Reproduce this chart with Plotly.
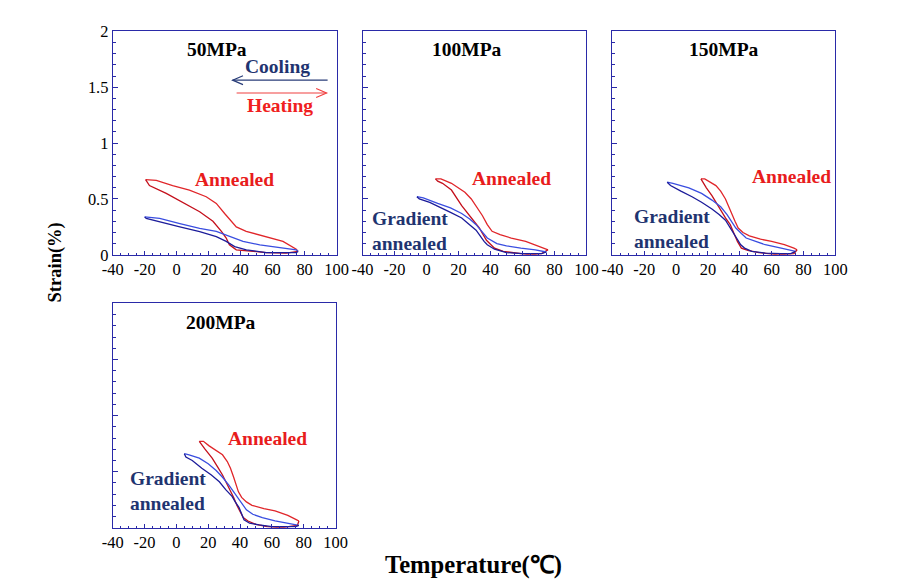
import plotly.graph_objects as go

# ---------------- data (temperature in degC, strain in %) ----------------
# 50 MPa
T50_ann_heat = [-19.4, -12.7, -2.5, 8, 18.5, 24.8, 30, 34, 37.3, 43.5, 56, 66.5, 74.8, 75.9]
S50_ann_heat = [0.673, 0.667, 0.62, 0.58, 0.52, 0.46, 0.37, 0.30, 0.25, 0.21, 0.16, 0.12, 0.05, 0.03]
T50_ann_cool = [75.9, 68.5, 56, 45.6, 37.3, 33, 31, 28, 22.7, 14.4, 4, -6.5, -17, -19.4]
S50_ann_cool = [0.03, 0.015, 0.02, 0.03, 0.044, 0.09, 0.15, 0.21, 0.30, 0.385, 0.47, 0.55, 0.62, 0.673]
T50_grd_heat = [-20, -10.6, 2, 14.4, 24.8, 33, 41.5, 52, 64.4, 74.8, 76]
S50_grd_heat = [0.34, 0.326, 0.28, 0.237, 0.21, 0.163, 0.12, 0.089, 0.068, 0.045, 0.03]
T50_grd_cool = [76, 74.8, 56, 43.6, 36.3, 31, 24.8, 14.4, 2, -10.6, -19, -20]
S50_grd_cool = [0.03, 0.02, 0.02, 0.044, 0.074, 0.12, 0.163, 0.207, 0.25, 0.296, 0.325, 0.34]

# 100 MPa
T100_ann_heat = [5.6, 9, 15.6, 20, 24, 28, 32, 35, 38, 41, 46, 53, 62, 68, 73, 76]
S100_ann_heat = [0.68, 0.68, 0.64, 0.6, 0.56, 0.5, 0.42, 0.35, 0.27, 0.21, 0.18, 0.15, 0.12, 0.09, 0.06, 0.045]
T100_ann_cool = [76, 72, 65, 55, 48, 42.5, 37.5, 33, 28, 22, 15.6, 10, 7, 5.6]
S100_ann_cool = [0.045, 0.01, 0.0, 0.02, 0.03, 0.06, 0.13, 0.24, 0.33, 0.44, 0.58, 0.64, 0.66, 0.68]
T100_grd_heat = [-6, -2, 7, 15, 22, 27, 31, 35, 38, 44, 50, 59, 68, 75]
S100_grd_heat = [0.52, 0.51, 0.46, 0.42, 0.37, 0.32, 0.27, 0.2, 0.15, 0.1, 0.08, 0.06, 0.045, 0.025]
T100_grd_cool = [75, 72, 60, 50, 42.5, 38, 36, 33, 31, 26, 22, 15, 9.5, 2, -4.5, -6]
S100_grd_cool = [0.025, 0.01, 0.01, 0.02, 0.05, 0.09, 0.12, 0.18, 0.22, 0.28, 0.33, 0.38, 0.42, 0.47, 0.5, 0.52]

# 150 MPa
T150_ann_heat = [15.6, 18, 25, 28, 31, 33, 35, 37, 39, 42, 46, 53, 60, 68, 74, 76]
S150_ann_heat = [0.68, 0.68, 0.62, 0.57, 0.5, 0.43, 0.36, 0.3, 0.24, 0.2, 0.17, 0.14, 0.12, 0.09, 0.06, 0.045]
T150_ann_cool = [76, 74, 64, 52, 45, 41, 38.5, 37, 34, 31, 29, 25, 22.5, 19, 17, 15.6]
S150_ann_cool = [0.045, 0.01, 0.0, 0.02, 0.04, 0.06, 0.12, 0.17, 0.27, 0.33, 0.38, 0.47, 0.53, 0.6, 0.65, 0.68]
T150_grd_heat = [-5.6, -2, 8, 16, 22.5, 28, 32, 35, 37.5, 41, 44, 50, 56, 66, 75]
S150_grd_heat = [0.65, 0.64, 0.6, 0.55, 0.49, 0.43, 0.36, 0.3, 0.24, 0.19, 0.15, 0.12, 0.09, 0.06, 0.03]
T150_grd_cool = [75, 72, 66, 56, 47.5, 43, 40.6, 38, 36, 33, 31, 27, 22.5, 16, 10, 3, -3.5, -5.6]
S150_grd_cool = [0.03, 0.01, 0.01, 0.015, 0.03, 0.06, 0.09, 0.15, 0.2, 0.27, 0.31, 0.36, 0.41, 0.47, 0.52, 0.57, 0.62, 0.65]

# 200 MPa
T200_ann_heat = [14.4, 17, 20.6, 25, 29, 32, 34, 36, 37.5, 39, 41, 44, 47.5, 55, 62, 70, 75.6, 77]
S200_ann_heat = [0.77, 0.77, 0.73, 0.69, 0.65, 0.59, 0.53, 0.45, 0.38, 0.32, 0.27, 0.23, 0.2, 0.17, 0.15, 0.11, 0.07, 0.06]
T200_ann_cool = [77, 76, 66, 57, 50, 45, 42, 40, 38, 36, 34, 31, 29, 26, 22.5, 18, 15.6, 14.4]
S200_ann_cool = [0.06, 0.02, 0.0, 0.01, 0.03, 0.06, 0.09, 0.14, 0.2, 0.27, 0.33, 0.42, 0.47, 0.54, 0.62, 0.7, 0.74, 0.77]
T200_grd_heat = [5, 8, 14.4, 20, 25, 29, 33, 36, 38, 41, 44, 48, 54, 62, 70, 75, 77]
S200_grd_heat = [0.66, 0.65, 0.62, 0.57, 0.51, 0.45, 0.38, 0.32, 0.27, 0.21, 0.16, 0.12, 0.09, 0.06, 0.04, 0.025, 0.02]
T200_grd_cool = [77, 75, 70, 60, 52, 46, 42.5, 41, 39.4, 37, 35, 31, 27, 22, 16, 10, 6, 5]
S200_grd_cool = [0.02, 0.01, 0.01, 0.01, 0.025, 0.04, 0.07, 0.12, 0.18, 0.23, 0.28, 0.34, 0.41, 0.47, 0.53, 0.6, 0.63, 0.66]

panel_titles = ["50MPa", "100MPa", "150MPa", "200MPa"]
x_tick_vals = [-40, -20, 0, 20, 40, 60, 80, 100]
x_tick_text = ["-40", "-20", "0", "20", "40", "60", "80", "100"]
y_tick_vals = [0, 0.5, 1, 1.5, 2]
y_tick_text = ["0", "0.5", "1", "1.5", "2"]

panels = [
    (T50_ann_heat, S50_ann_heat, T50_ann_cool, S50_ann_cool, T50_grd_heat, S50_grd_heat, T50_grd_cool, S50_grd_cool),
    (T100_ann_heat, S100_ann_heat, T100_ann_cool, S100_ann_cool, T100_grd_heat, S100_grd_heat, T100_grd_cool, S100_grd_cool),
    (T150_ann_heat, S150_ann_heat, T150_ann_cool, S150_ann_cool, T150_grd_heat, S150_grd_heat, T150_grd_cool, S150_grd_cool),
    (T200_ann_heat, S200_ann_heat, T200_ann_cool, S200_ann_cool, T200_grd_heat, S200_grd_heat, T200_grd_cool, S200_grd_cool),
]

# ---------------- styling ----------------
W, H = 903, 587
SC = 0.975                 # the photographed page comes out ~2.5% smaller, centred; compensate
CX, CY = W / 2, H / 2
FONT = "Times New Roman"
AXIS_COLOR = "#2a2aa8"
RED_HEAT = "#e0262a"
RED_COOL = "#c4101c"
BLUE_HEAT = "#3a4ee0"
BLUE_COOL = "#1c1c9a"
NAVY_TEXT = "#1f3470"
RED_TEXT = "#e81c1c"
LABEL_SIZE = 19.5
TICK_SIZE = 16.4


def px(X):
    return (CX + (X - CX) / SC) / W


def py(Y):
    return 1 - (CY + (Y - CY) / SC) / H


# panel boxes in target pixels: (left, right, top, bottom)
boxes = [(113, 337, 30, 255), (363, 587, 30, 255), (613, 836, 30, 255), (113, 336, 304, 530)]

fig = go.Figure()

for i, (p, box) in enumerate(zip(panels, boxes)):
    n = "" if i == 0 else str(i + 1)
    xa, ya = "x" + n, "y" + n
    th, sh, tc, sc, gth, gsh, gtc, gsc = p
    for xs, ys, col in [(th, sh, RED_HEAT), (tc, sc, RED_COOL), (gth, gsh, BLUE_HEAT), (gtc, gsc, BLUE_COOL)]:
        fig.add_trace(go.Scatter(x=xs, y=ys, mode="lines", line=dict(color=col, width=1.3),
                                 xaxis=xa, yaxis=ya, showlegend=False, hoverinfo="skip"))
    l, r, t, b = box
    fig.layout["xaxis" + n] = dict(
        domain=[px(l), px(r)], anchor=ya, range=[-40, 100],
        tickvals=x_tick_vals, ticktext=x_tick_text, ticks="inside", ticklen=4, tickcolor=AXIS_COLOR,
        minor=dict(dtick=5, tick0=0, ticks="inside", ticklen=2, tickcolor=AXIS_COLOR),
        showline=True, linecolor=AXIS_COLOR, linewidth=1, mirror=True,
        showgrid=False, zeroline=False,
        tickfont=dict(family=FONT, size=TICK_SIZE, color="black"), ticklabelstandoff=0,
    )
    fig.layout["yaxis" + n] = dict(
        domain=[py(b), py(t)], anchor=xa, range=[0, 2],
        tickvals=y_tick_vals, ticktext=y_tick_text, ticks="inside", ticklen=5, tickcolor=AXIS_COLOR,
        minor=dict(dtick=0.1, tick0=0, ticks="inside", ticklen=3, tickcolor=AXIS_COLOR),
        showline=True, linecolor=AXIS_COLOR, linewidth=1, mirror=True,
        showgrid=False, zeroline=False, showticklabels=(i == 0),
        tickfont=dict(family=FONT, size=TICK_SIZE, color="black"),
    )

annotations = []
title_pos = [(25, 1.84), (25.6, 1.84), (30, 1.84), (28, 1.83)]
ann_pos = [(36, 0.675), (53, 0.684), (72.5, 0.70), (57.5, 0.80)]
grd_pos = [(-55.6, 0.164), (-35.6, 0.209), (-27.5, 0.227), (-30.6, 0.33)]
for i in range(4):
    n = "" if i == 0 else str(i + 1)
    xr, yr = "x" + n, "y" + n
    annotations.append(dict(x=title_pos[i][0], y=title_pos[i][1], xref=xr, yref=yr, text="<b>%s</b>" % panel_titles[i],
                            showarrow=False, xanchor="center", yanchor="middle",
                            font=dict(family=FONT, size=LABEL_SIZE, color="black")))
    annotations.append(dict(x=ann_pos[i][0], y=ann_pos[i][1], xref=xr, yref=yr, text="<b>Annealed</b>",
                            showarrow=False, xanchor="center", yanchor="middle",
                            font=dict(family=FONT, size=LABEL_SIZE, color=RED_TEXT)))
    annotations.append(dict(x=grd_pos[i][0], y=grd_pos[i][1], xref=xr, yref=yr, text="<b>Gradient<br>annealed</b>",
                            showarrow=False, xanchor="left", yanchor="middle", align="left",
                            font=dict(family=FONT, size=LABEL_SIZE, color=NAVY_TEXT)))

annotations.append(dict(x=63, y=1.69, xref="x", yref="y", text="<b>Cooling</b>", showarrow=False,
                        xanchor="center", yanchor="middle",
                        font=dict(family=FONT, size=LABEL_SIZE, color=NAVY_TEXT)))
annotations.append(dict(x=64.4, y=1.34, xref="x", yref="y", text="<b>Heating</b>", showarrow=False,
                        xanchor="center", yanchor="middle",
                        font=dict(family=FONT, size=LABEL_SIZE, color="#f02020")))
annotations.append(dict(x=px(474), y=py(568), xref="paper", yref="paper", text="<b>Temperature(℃)</b>",
                        showarrow=False, xanchor="center", yanchor="middle",
                        font=dict(family=FONT, size=24.6, color="black")))
annotations.append(dict(x=px(56), y=py(263), xref="paper", yref="paper", text="<b>Strain(%)</b>", textangle=-90,
                        showarrow=False, xanchor="center", yanchor="middle",
                        font=dict(family=FONT, size=18.5, color="black")))

# direction arrows (open chevron heads) in 50MPa panel
shapes = [
    dict(type="line", xref="x", yref="y", x0=35, x1=94.4, y0=1.564, y1=1.564, line=dict(color="#283c78", width=1.2)),
    dict(type="path", xref="x", yref="y", path="M 41.5 1.604 L 35 1.564 L 41.5 1.524", line=dict(color="#283c78", width=1.2)),
    dict(type="line", xref="x", yref="y", x0=37.5, x1=93.75, y0=1.449, y1=1.449, line=dict(color="#f04040", width=1.2)),
    dict(type="path", xref="x", yref="y", path="M 87.25 1.489 L 93.75 1.449 L 87.25 1.409", line=dict(color="#f04040", width=1.2)),
]

fig.update_layout(width=W, height=H, margin=dict(l=0, r=0, t=0, b=0),
                  paper_bgcolor="white", plot_bgcolor="white",
                  annotations=annotations, shapes=shapes, showlegend=False)

fig.write_html("out.html")
